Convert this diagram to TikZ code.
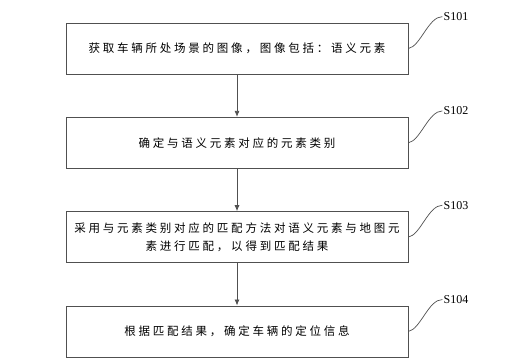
\documentclass[tikz,border=0pt]{standalone}
\usepackage{fontspec}
\setmainfont{Liberation Serif}
\newfontfamily\cjk[LetterSpace=24]{Noto Sans CJK SC}
\usepackage{tikz}
\usetikzlibrary{arrows.meta,positioning}
\definecolor{LineGray}{HTML}{505050}

\begin{document}
\begin{tikzpicture}[
  x=1pt,y=1pt,
  node distance=42.5pt,
  every node/.style={align=center},
  stepbox/.style={draw=LineGray,line width=0.8pt,minimum width=342pt,minimum height=51pt,inner sep=0pt,font=\cjk\fontsize{11.5}{17.5}\selectfont},
  steplbl/.style={anchor=west,font=\fontsize{12}{14}\selectfont,inner sep=1pt},
  arrow/.style={-{Latex[length=6pt,width=5pt]},line width=0.8pt,color=LineGray},
  tie/.style={line width=0.7pt,color=LineGray}
]
\useasboundingbox (0,0) rectangle (526,360);
\node[stepbox] (s1) at (237,311.5) {获取车辆所处场景的图像，图像包括：语义元素};
\node[stepbox,below=of s1] (s2) {确定与语义元素对应的元素类别};
\node[stepbox,below=of s2] (s3) {采用与元素类别对应的匹配方法对语义元素与地图元\\素进行匹配，以得到匹配结果};
\node[stepbox,below=of s3] (s4) {根据匹配结果，确定车辆的定位信息};
\node[steplbl,xshift=34pt,yshift=6pt] (l1) at (s1.north east) {S101};
\node[steplbl,xshift=34pt,yshift=6pt] (l2) at (s2.north east) {S102};
\node[steplbl,xshift=34pt,yshift=6pt] (l3) at (s3.north east) {S103};
\node[steplbl,xshift=34pt,yshift=6pt] (l4) at (s4.north east) {S104};
\draw[arrow] (s1)--(s2);
\draw[arrow] (s2)--(s3);
\draw[arrow] (s3)--(s4);
\draw[tie] (s1.east) .. controls +(12,2) and +(-14,0) .. (l1.west);
\draw[tie] (s2.east) .. controls +(12,2) and +(-14,0) .. (l2.west);
\draw[tie] (s3.east) .. controls +(12,2) and +(-14,0) .. (l3.west);
\draw[tie] (s4.east) .. controls +(12,2) and +(-14,0) .. (l4.west);
\end{tikzpicture}
\end{document}
